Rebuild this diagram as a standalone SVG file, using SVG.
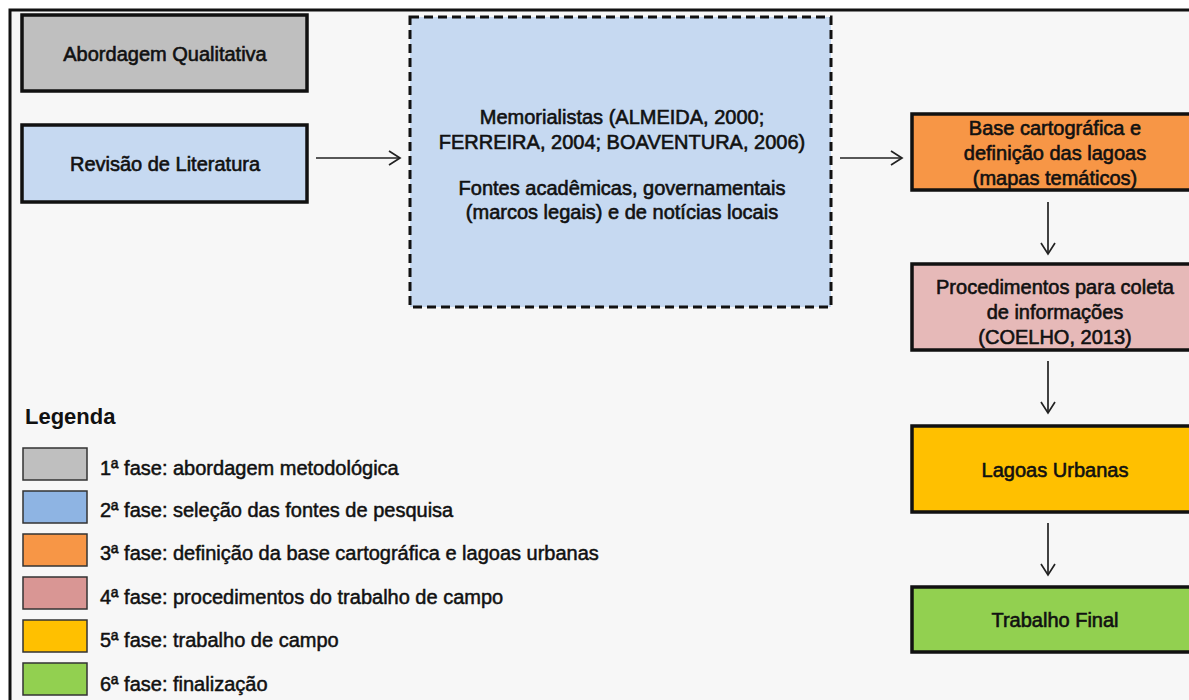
<svg xmlns="http://www.w3.org/2000/svg" width="1189" height="700" viewBox="0 0 1189 700">
<style>
.t{font-family:"Liberation Sans",Arial,sans-serif;font-size:20px;fill:#111;stroke:#111;stroke-width:0.6;text-anchor:middle;dominant-baseline:central}
.lg{font-family:"Liberation Sans",Arial,sans-serif;font-size:20px;fill:#111;stroke:#111;stroke-width:0.5;dominant-baseline:central}
.box{stroke:#111;stroke-width:3.5}
.sw{stroke:#333;stroke-width:1.5}
.c{stroke:#222;stroke-width:1.7;fill:none;marker-end:url(#ah)}
</style>
<defs>
<marker id="ah" markerWidth="14" markerHeight="16" refX="12" refY="8" orient="auto" markerUnits="userSpaceOnUse">
<path d="M1,1 L12,8 L1,15" fill="none" stroke="#222" stroke-width="1.7"/>
</marker>
</defs>
<rect x="0" y="0" width="1189" height="700" fill="#fff"/>
<rect x="10" y="10" width="1200" height="720" fill="#f7f7f7" stroke="#111" stroke-width="3"/>

<g id="n-abordagem">
<rect class="box" x="22" y="15" width="285" height="76" fill="#bfbfbf"/>
<text class="t" x="165" y="54">Abordagem Qualitativa</text>
</g>
<g id="n-revisao">
<rect class="box" x="22" y="125" width="285" height="77" fill="#c6d9f1"/>
<text class="t" x="165" y="164">Revisão de Literatura</text>
</g>
<g id="n-fontes">
<rect x="410" y="17" width="421" height="290" fill="#c6d9f1" stroke="#111" stroke-width="3" stroke-dasharray="9,5"/>
<text class="t" x="622" y="117" font-size="20.5">Memorialistas (ALMEIDA, 2000;</text>
<text class="t" x="622" y="142" font-size="20.5">FERREIRA, 2004; BOAVENTURA, 2006)</text>
<text class="t" x="622" y="188" font-size="20.5">Fontes acadêmicas, governamentais</text>
<text class="t" x="622" y="212" font-size="20.5">(marcos legais) e de notícias locais</text>
</g>
<g id="n-base">
<rect class="box" x="912" y="114" width="290" height="76" fill="#f79646"/>
<text class="t" x="1055" y="128">Base cartográfica e</text>
<text class="t" x="1055" y="153">definição das lagoas</text>
<text class="t" x="1055" y="178">(mapas temáticos)</text>
</g>
<g id="n-procedimentos">
<rect class="box" x="912" y="264" width="290" height="86" fill="#e6b9b8"/>
<text class="t" x="1055" y="287">Procedimentos para coleta</text>
<text class="t" x="1055" y="312">de informações</text>
<text class="t" x="1055" y="337">(COELHO, 2013)</text>
</g>
<g id="n-lagoas">
<rect class="box" x="912" y="426" width="290" height="86" fill="#ffc000"/>
<text class="t" x="1055" y="470">Lagoas Urbanas</text>
</g>
<g id="n-final">
<rect class="box" x="912" y="587" width="290" height="65" fill="#92d050"/>
<text class="t" x="1055" y="620">Trabalho Final</text>
</g>

<g id="connectors">
<line class="c" x1="316" y1="158" x2="400" y2="158"/>
<line class="c" x1="840" y1="158" x2="902" y2="158"/>
<line class="c" x1="1048" y1="202" x2="1048" y2="254"/>
<line class="c" x1="1048" y1="361" x2="1048" y2="413"/>
<line class="c" x1="1048" y1="523" x2="1048" y2="575"/>
</g>

<g id="legend">
<text x="25" y="416" font-family="Liberation Sans,Arial,sans-serif" font-size="22" font-weight="bold" fill="#111" dominant-baseline="central">Legenda</text>
<rect class="sw" x="23" y="448" width="64" height="32" fill="#bfbfbf"/>
<text class="lg" x="100" y="468">1ª fase: abordagem metodológica</text>
<rect class="sw" x="23" y="491" width="64" height="32" fill="#8eb4e3"/>
<text class="lg" x="100" y="510">2ª fase: seleção das fontes de pesquisa</text>
<rect class="sw" x="23" y="534" width="64" height="32" fill="#f79646"/>
<text class="lg" x="100" y="553">3ª fase: definição da base cartográfica e lagoas urbanas</text>
<rect class="sw" x="23" y="577" width="64" height="32" fill="#d99694"/>
<text class="lg" x="100" y="597">4ª fase: procedimentos do trabalho de campo</text>
<rect class="sw" x="23" y="620" width="64" height="32" fill="#ffc000"/>
<text class="lg" x="100" y="640">5ª fase: trabalho de campo</text>
<rect class="sw" x="23" y="663" width="64" height="32" fill="#92d050"/>
<text class="lg" x="100" y="684">6ª fase: finalização</text>
</g>
</svg>
